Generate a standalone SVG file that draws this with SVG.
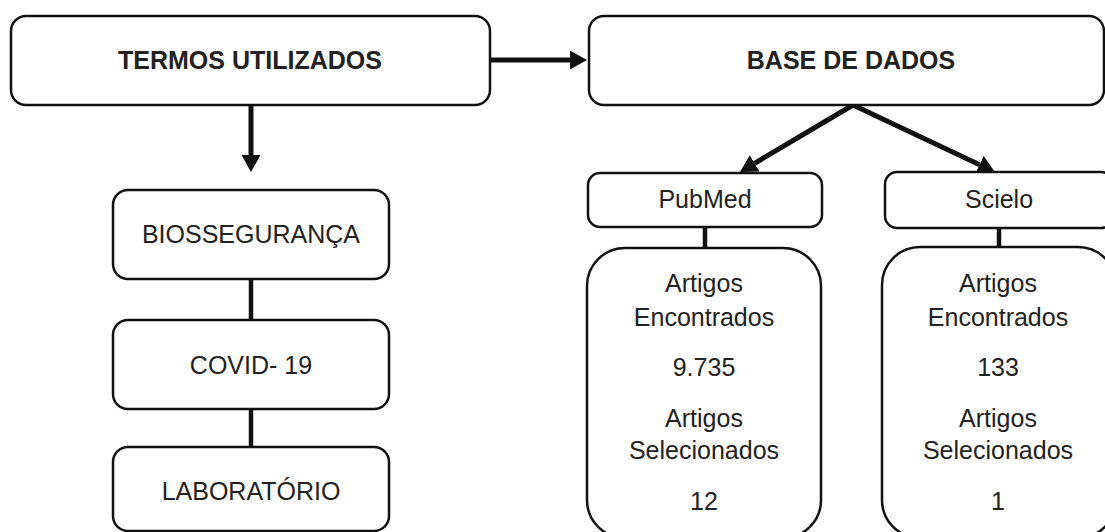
<svg xmlns="http://www.w3.org/2000/svg" width="1105" height="532" viewBox="0 0 1105 532">
  <style>
    .box { fill: #ffffff; stroke: #111111; stroke-width: 2.5; }
    .t { font-family: "Liberation Sans", Arial, sans-serif; font-size: 25px; fill: #222222; text-anchor: middle; }
    .b { font-weight: bold; }
    .conn { stroke: #111111; stroke-width: 4.5; fill: none; }
    .arr { stroke: #111111; stroke-width: 5; fill: none; marker-end: url(#head); }
  </style>
  <defs>
    <marker id="head" markerUnits="userSpaceOnUse" markerWidth="18" markerHeight="20" refX="0" refY="9.5" orient="auto">
      <path d="M0,0 L17,9.5 L0,19 Z" fill="#111111"/>
    </marker>
  </defs>
  <rect width="1105" height="532" fill="#ffffff"/>

  <g id="connectors">
    <line class="arr" x1="490" y1="60" x2="570" y2="60"/>
    <line class="arr" x1="251" y1="105" x2="251" y2="155"/>
    <line class="arr" x1="853" y1="105" x2="754.6" y2="163.3"/>
    <line class="arr" x1="853" y1="105" x2="979.6" y2="164.7"/>
    <line class="conn" x1="251" y1="279" x2="251" y2="320"/>
    <line class="conn" x1="251" y1="409" x2="251" y2="447"/>
    <line class="conn" x1="705" y1="227" x2="705" y2="248"/>
    <line class="conn" x1="999" y1="228" x2="999" y2="247"/>
  </g>

  <g id="termos">
    <rect class="box" x="11" y="16" width="479" height="89" rx="15"/>
    <text class="t b" x="250" y="69">TERMOS UTILIZADOS</text>
  </g>
  <g id="base">
    <rect class="box" x="589" y="16" width="515" height="89" rx="15"/>
    <text class="t b" x="851" y="69">BASE DE DADOS</text>
  </g>

  <g id="biosseguranca">
    <rect class="box" x="113" y="190" width="276" height="89" rx="15"/>
    <text class="t" x="251" y="243">BIOSSEGURANÇA</text>
  </g>
  <g id="covid">
    <rect class="box" x="113" y="320" width="276" height="89" rx="15"/>
    <text class="t" x="251" y="374">COVID- 19</text>
  </g>
  <g id="laboratorio">
    <rect class="box" x="113" y="447" width="276" height="84" rx="15"/>
    <text class="t" x="251" y="500">LABORATÓRIO</text>
  </g>

  <g id="pubmed">
    <rect class="box" x="588" y="173" width="234" height="54" rx="12"/>
    <text class="t" x="705" y="208">PubMed</text>
  </g>
  <g id="scielo">
    <rect class="box" x="885" y="172" width="228" height="56" rx="12"/>
    <text class="t" x="999" y="208">Scielo</text>
  </g>

  <g id="pubmed-artigos">
    <rect class="box" x="587" y="248" width="234" height="290" rx="38"/>
    <text class="t" x="704" y="292">Artigos</text>
    <text class="t" x="704" y="326">Encontrados</text>
    <text class="t" x="704" y="376">9.735</text>
    <text class="t" x="704" y="427">Artigos</text>
    <text class="t" x="704" y="459">Selecionados</text>
    <text class="t" x="704" y="510">12</text>
  </g>
  <g id="scielo-artigos">
    <rect class="box" x="882" y="247" width="234" height="291" rx="38"/>
    <text class="t" x="998" y="292">Artigos</text>
    <text class="t" x="998" y="326">Encontrados</text>
    <text class="t" x="998" y="376">133</text>
    <text class="t" x="998" y="427">Artigos</text>
    <text class="t" x="998" y="459">Selecionados</text>
    <text class="t" x="998" y="510">1</text>
  </g>
</svg>
